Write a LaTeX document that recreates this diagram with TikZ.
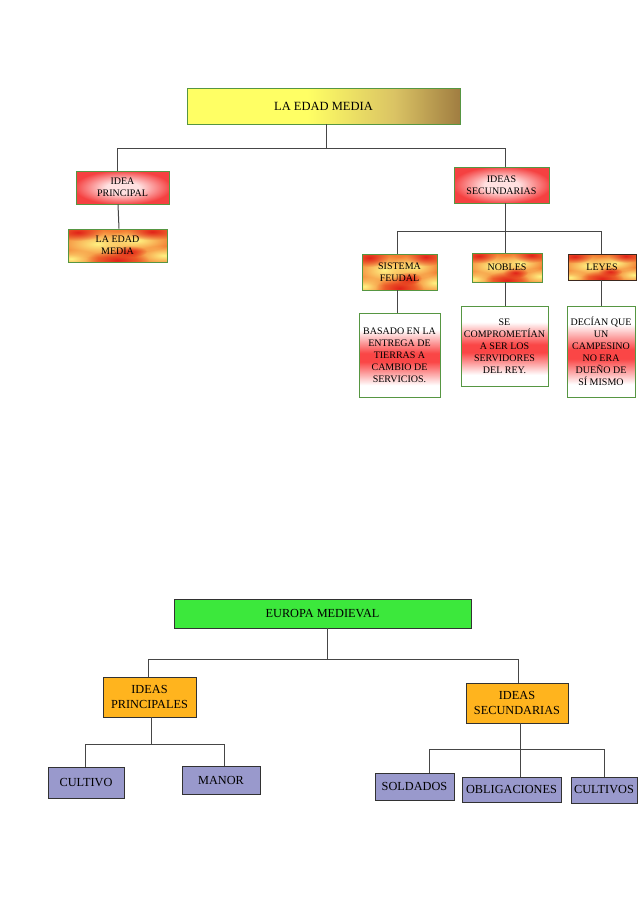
\documentclass[tikz,border=0pt]{standalone}
\usepackage{fontspec}
\setmainfont{Liberation Serif}
\usetikzlibrary{fadings}
\definecolor{gborder}{RGB}{86,150,66}
\definecolor{connc}{RGB}{70,70,70}
\definecolor{tgyel}{RGB}{255,255,100}
\definecolor{tgtan}{RGB}{218,195,100}
\definecolor{tgbrn}{RGB}{160,125,65}
\definecolor{pinkC}{RGB}{255,225,225}
\definecolor{pinkE}{RGB}{245,65,65}
\definecolor{bandred}{RGB}{250,70,70}
\definecolor{fireA}{RGB}{244,125,50}
\definecolor{fireY}{RGB}{255,242,130}
\definecolor{fireR}{RGB}{225,35,25}
\definecolor{eugreen}{RGB}{60,232,60}
\definecolor{orng}{RGB}{255,180,30}
\definecolor{lav}{RGB}{153,153,204}
\definecolor{dk}{RGB}{50,50,50}
\definecolor{leyb}{RGB}{60,40,30}
\pgfdeclarehorizontalshading{topgrad}{100bp}{color(0bp)=(tgyel); color(47bp)=(tgyel); color(63bp)=(tgtan); color(75bp)=(tgbrn); color(100bp)=(tgbrn)}
\pgfdeclareradialshading{pinkglow}{\pgfpoint{0bp}{0bp}}{color(0bp)=(pinkC); color(9bp)=(pinkC); color(26bp)=(pinkE); color(50bp)=(pinkE)}
\pgfdeclareverticalshading{band}{100bp}{color(0bp)=(white); color(32bp)=(white); color(46bp)=(bandred); color(51bp)=(bandred); color(65bp)=(white); color(100bp)=(white)}
\tikzfading[name=softblob, inner color=transparent!0, outer color=transparent!100]
\newcommand\firefill[4]{%
  \begin{scope}[shift={(#1,#2)}, x=#3pt, y=-#4pt]
    \clip (0,0) rectangle (1,1);
    \fill[fireA] (0,0) rectangle (1,1);
    \fill[fireY, path fading=softblob] (0.3,0.45) circle (0.42);
    \fill[fireY, path fading=softblob] (0.7,0.35) circle (0.34);
    \fill[fireY, path fading=softblob] (0.97,0.8) circle (0.3);
    \fill[fireY, path fading=softblob] (0.03,0.9) circle (0.28);
    \fill[fireR, path fading=softblob] (0.1,0.1) circle (0.26);
    \fill[fireR, path fading=softblob] (0.5,0.95) circle (0.32);
    \fill[fireR, path fading=softblob] (0.85,0.08) circle (0.26);
    \fill[fireR, path fading=softblob] (0.62,0.68) circle (0.18);
  \end{scope}}
\tikzset{
  conn/.style={draw=connc, line width=1pt},
  tbox/.style={rectangle, inner sep=0pt, align=center, draw=gborder, line width=0.9pt, font=\fontsize{10}{12}\selectfont},
  bbox/.style={rectangle, inner sep=0pt, align=center, draw=dk, line width=0.9pt, font=\fontsize{12.3}{15}\selectfont},
}
\begin{document}
\begin{tikzpicture}[x=1pt,y=-1pt]
\useasboundingbox (0,0) rectangle (638,903);
\fill[white] (0,0) rectangle (638,903);

% ---- top section ----
\node[tbox, shade, shading=topgrad, minimum width=273pt, minimum height=36pt, font=\fontsize{12.5}{15}\selectfont] (top) at (323.5,106) {LA EDAD MEDIA};
\node[tbox, shade, shading=pinkglow, minimum width=93pt, minimum height=33pt] (ip) at (122.5,187.5) {IDEA\\PRINCIPAL};
\node[tbox, shade, shading=pinkglow, minimum width=95pt, minimum height=36pt] (is) at (501.5,185) {IDEAS\\SECUNDARIAS};

\firefill{68}{229}{99}{33}
\firefill{362}{254}{75}{36}
\firefill{472}{253}{70}{29}
\firefill{568}{254}{68}{26}
\node[tbox, minimum width=99pt, minimum height=33pt] (lem) at (117.5,245.5) {LA EDAD\\MEDIA};
\node[tbox, minimum width=75pt, minimum height=36pt] (sf) at (399.5,272) {SISTEMA\\FEUDAL};
\node[tbox, minimum width=70pt, minimum height=29pt] (nob) at (507,267.5) {NOBLES};
\node[tbox, draw=leyb, minimum width=68pt, minimum height=26pt] (ley) at (602,267) {LEYES};

\node[tbox, shade, shading=band, minimum width=81pt, minimum height=84pt] (bas) at (399.5,355) {BASADO EN LA\\ENTREGA DE\\TIERRAS A\\CAMBIO DE\\SERVICIOS.};
\node[tbox, shade, shading=band, minimum width=87pt, minimum height=80pt] (sec) at (504.5,346) {SE\\COMPROMETÍAN\\A SER LOS\\SERVIDORES\\DEL REY.};
\node[tbox, shade, shading=band, minimum width=68pt, minimum height=91pt] (dec) at (601,351.5) {DECÍAN QUE\\UN\\CAMPESINO\\NO ERA\\DUEÑO DE\\SÍ MISMO};

\draw[conn] ([xshift=2.5pt]top.south) -- ++(0,24) -| ([xshift=-5.5pt]ip.north);
\draw[conn] ([xshift=2.5pt]top.south) -- ++(0,24) -| ([xshift=3.5pt]is.north);
\draw[conn] ([xshift=-4.5pt]ip.south) -- ([xshift=1.5pt]lem.north);
\draw[conn] ([xshift=3.5pt]is.south) -- ++(0,28) -| ([xshift=-2.5pt]sf.north);
\draw[conn] ([xshift=3.5pt]is.south) -- ([xshift=-2pt]nob.north);
\draw[conn] ([xshift=3.5pt]is.south) -- ++(0,28) -| ([xshift=-1pt]ley.north);
\draw[conn] ([xshift=-2.5pt]sf.south) -- ([xshift=-2.5pt]bas.north);
\draw[conn] ([xshift=-2pt]nob.south) -- ([xshift=0.5pt]sec.north);
\draw[conn] ([xshift=-1pt]ley.south) -- (dec.north);

% ---- bottom section ----
\node[bbox, fill=eugreen, minimum width=297pt, minimum height=29pt] (eu) at (322.5,613.5) {EUROPA MEDIEVAL};
\node[bbox, fill=orng, minimum width=93pt, minimum height=40pt] (ipb) at (149.5,697) {IDEAS\\PRINCIPALES};
\node[bbox, fill=orng, minimum width=102pt, minimum height=40pt] (isb) at (517,703) {IDEAS\\SECUNDARIAS};
\node[bbox, fill=lav, minimum width=76pt, minimum height=31pt] (cul) at (86,782.5) {CULTIVO};
\node[bbox, fill=lav, minimum width=78pt, minimum height=28pt] (man) at (221,780) {MANOR};
\node[bbox, fill=lav, minimum width=79pt, minimum height=27pt] (sol) at (414.5,786.5) {SOLDADOS};
\node[bbox, fill=lav, minimum width=99pt, minimum height=25pt] (obl) at (511.5,789.5) {OBLIGACIONES};
\node[bbox, fill=lav, minimum width=66pt, minimum height=26pt] (cus) at (604,790) {CULTIVOS};

\draw[conn] ([xshift=4.5pt]eu.south) -- ++(0,31) -| ([xshift=-1.5pt]ipb.north);
\draw[conn] ([xshift=4.5pt]eu.south) -- ++(0,31) -| ([xshift=1pt]isb.north);
\draw[conn] ([xshift=1.5pt]ipb.south) -- ++(0,27) -| ([xshift=-1pt]cul.north);
\draw[conn] ([xshift=1.5pt]ipb.south) -- ++(0,27) -| ([xshift=3pt]man.north);
\draw[conn] ([xshift=3pt]isb.south) -- ++(0,26) -| ([xshift=14.5pt]sol.north);
\draw[conn] ([xshift=3pt]isb.south) -- ([xshift=8.5pt]obl.north);
\draw[conn] ([xshift=3pt]isb.south) -- ++(0,26) -| (cus.north);
\end{tikzpicture}
\end{document}
